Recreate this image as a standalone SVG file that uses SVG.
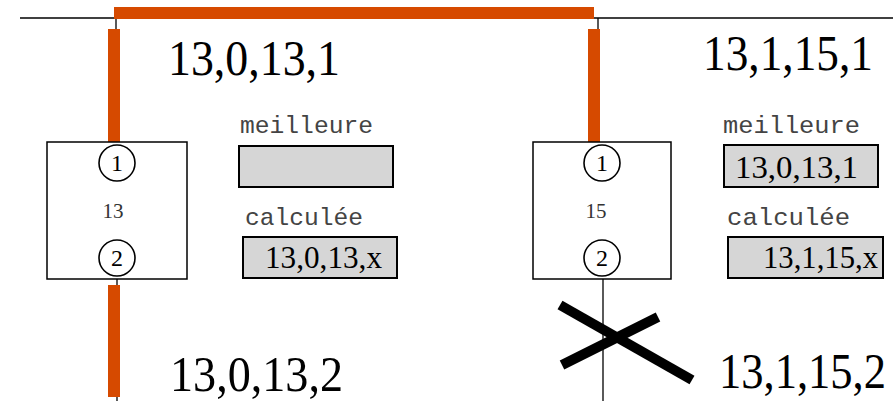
<svg xmlns="http://www.w3.org/2000/svg" width="893" height="401" viewBox="0 0 893 401">
<style>
.wire{stroke:#000;stroke-width:1.3;fill:none}
.hot{fill:#d64a00}
.node{fill:#fff;stroke:#000;stroke-width:1.5}
.port{fill:#fff;stroke:#000;stroke-width:1.6}
.pn{font-family:"Liberation Serif",serif;font-size:24px;text-anchor:middle}
.nm{font-family:"Liberation Serif",serif;font-size:21px;fill:#333;text-anchor:middle}
.reg{fill:#d6d6d6;stroke:#000;stroke-width:2}
.lab{font-family:"Liberation Mono",monospace;font-size:24px;fill:#444}
.val{font-family:"Liberation Serif",serif;font-size:32px}
.big{font-family:"Liberation Serif",serif;font-size:50px}
.cross{stroke:#000;stroke-width:10;stroke-linecap:butt}
</style>
<g id="connectors">
<line class="wire" x1="20" y1="18" x2="893" y2="18"/>
<line class="wire" x1="116" y1="18" x2="116" y2="142"/>
<line class="wire" x1="598" y1="18" x2="598" y2="142"/>
<line class="wire" x1="117" y1="279" x2="117" y2="401"/>
<line class="wire" x1="603" y1="279" x2="603" y2="401"/>
<rect class="hot" x="114" y="7" width="480" height="12"/>
<rect class="hot" x="108" y="29" width="12" height="113"/>
<rect class="hot" x="588" y="29" width="12" height="113"/>
<rect class="hot" x="108" y="285" width="12" height="112"/>
<line class="cross" x1="560" y1="305" x2="692" y2="380"/>
<line class="cross" x1="562" y1="365" x2="658" y2="317"/>
</g>
<g id="node13">
<rect class="node" x="47" y="142" width="140" height="137"/>
<circle class="port" cx="117" cy="163" r="18"/>
<text class="pn" x="117" y="171">1</text>
<circle class="port" cx="117" cy="258" r="18"/>
<text class="pn" x="117" y="266">2</text>
<text class="nm" x="113" y="218">13</text>
</g>
<g id="node15">
<rect class="node" x="533" y="142" width="138" height="137"/>
<circle class="port" cx="602" cy="163" r="18"/>
<text class="pn" x="602" y="171">1</text>
<circle class="port" cx="602" cy="258" r="18"/>
<text class="pn" x="602" y="266">2</text>
<text class="nm" x="596" y="218">15</text>
</g>
<g id="tables13">
<text class="lab" x="240" y="133" textLength="133" lengthAdjust="spacingAndGlyphs">meilleure</text>
<rect class="reg" x="239" y="146" width="154" height="41"/>
<text class="lab" x="245" y="225" textLength="118" lengthAdjust="spacingAndGlyphs">calculée</text>
<rect class="reg" x="243" y="237" width="154" height="41"/>
<text class="val" x="265" y="268" textLength="117" lengthAdjust="spacingAndGlyphs">13,0,13,x</text>
</g>
<g id="tables15">
<text class="lab" x="723" y="133" textLength="137" lengthAdjust="spacingAndGlyphs">meilleure</text>
<rect class="reg" x="724" y="145" width="154" height="42"/>
<text class="val" x="735" y="178" textLength="123" lengthAdjust="spacingAndGlyphs">13,0,13,1</text>
<text class="lab" x="727" y="225" textLength="123" lengthAdjust="spacingAndGlyphs">calculée</text>
<rect class="reg" x="728" y="237" width="155" height="41"/>
<text class="val" x="763" y="268" textLength="115" lengthAdjust="spacingAndGlyphs">13,1,15,x</text>
</g>
<g id="labels">
<text class="big" x="168" y="75" textLength="172" lengthAdjust="spacingAndGlyphs">13,0,13,1</text>
<text class="big" x="703" y="70" textLength="170" lengthAdjust="spacingAndGlyphs">13,1,15,1</text>
<text class="big" x="170" y="391" textLength="173" lengthAdjust="spacingAndGlyphs">13,0,13,2</text>
<text class="big" transform="translate(719,388) scale(1,1.11)" x="0" y="0" style="font-size:45px" textLength="167" lengthAdjust="spacingAndGlyphs">13,1,15,2</text>
</g>
</svg>
